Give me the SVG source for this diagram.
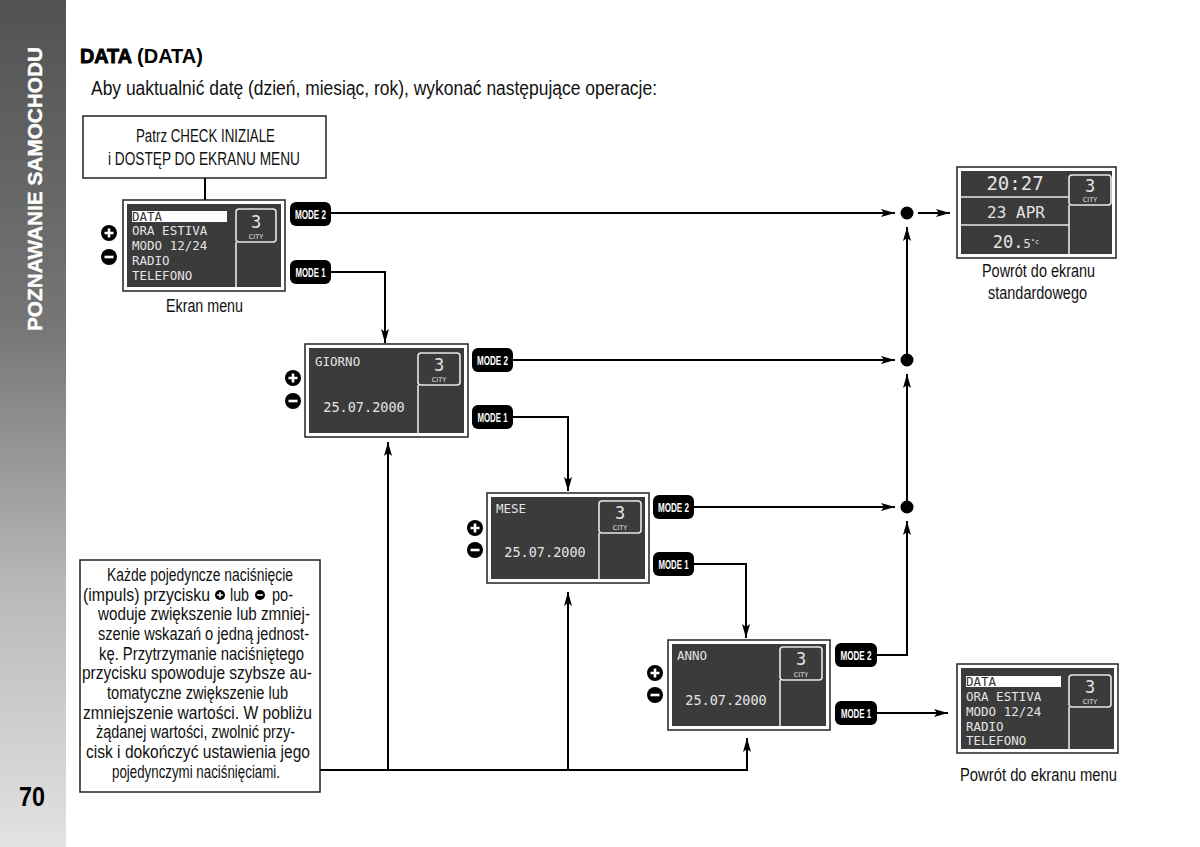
<svg xmlns="http://www.w3.org/2000/svg" width="1200" height="847" viewBox="0 0 1200 847">
<defs>
<linearGradient id="side" x1="0" y1="0" x2="0" y2="1">
<stop offset="0" stop-color="#525252"/>
<stop offset="0.38" stop-color="#757575"/>
<stop offset="0.7" stop-color="#b9b9b9"/>
<stop offset="1" stop-color="#e2e2e2"/>
</linearGradient>
<marker id="ah" viewBox="0 0 14 8" refX="14" refY="4" markerWidth="14" markerHeight="8" markerUnits="userSpaceOnUse" orient="auto">
<path d="M0,0 L14,4 L0,8 L3,4 Z" fill="#000"/>
</marker>
<g id="plus"><circle r="8" fill="#000"/><path d="M-4.5,0 H4.5 M0,-4.5 V4.5" stroke="#fff" stroke-width="2.6"/></g>
<g id="minus"><circle r="8" fill="#000"/><path d="M-4.5,0 H4.5" stroke="#fff" stroke-width="2.6"/></g>
<g id="plusS"><circle r="5" fill="#000"/><path d="M-2.8,0 H2.8 M0,-2.8 V2.8" stroke="#fff" stroke-width="1.6"/></g>
<g id="minusS"><circle r="5" fill="#000"/><path d="M-2.8,0 H2.8" stroke="#fff" stroke-width="1.6"/></g>
</defs>
<style>
.body{font-family:"Liberation Sans Narrow","Liberation Sans",sans-serif;fill:#111}
.cap{font-size:17.5px}
.note{font-size:17.5px}
.outer{fill:#fff;stroke:#222;stroke-width:1.5}
.inner{fill:#3b3b3b}
.wl{stroke:#e8e8e8;stroke-width:1.6;fill:none}
.mono{font-family:"DejaVu Sans Mono","Liberation Mono",monospace;fill:#e4e4e4;font-size:12.5px}
.big3{font-family:"DejaVu Sans Mono","Liberation Mono",monospace;fill:#e4e4e4;font-size:17px;text-anchor:middle}
.city{font-family:"DejaVu Sans",sans-serif;fill:#e4e4e4;font-size:6.5px;text-anchor:middle}
.date{font-family:"DejaVu Sans Mono","Liberation Mono",monospace;fill:#e4e4e4;font-size:13.5px;text-anchor:middle}
.mb{fill:#000}
.mt{font-family:"Liberation Sans Narrow","Liberation Sans",sans-serif;font-weight:bold;fill:#fff;font-size:12px;text-anchor:middle}
.conn{stroke:#000;stroke-width:2;fill:none}
</style>

<rect x="0" y="0" width="1200" height="847" fill="#fff"/>
<rect x="0" y="0" width="66" height="847" fill="url(#side)"/>
<text transform="translate(42,331) rotate(-90)" x="0" y="0" textLength="284" lengthAdjust="spacingAndGlyphs" font-family="Liberation Sans, sans-serif" font-weight="bold" font-size="20" fill="#fff" stroke="#fff" stroke-width="0.4">POZNAWANIE SAMOCHODU</text>
<text x="19" y="806" textLength="26" lengthAdjust="spacingAndGlyphs" font-family="Liberation Sans Narrow, Liberation Sans, sans-serif" font-weight="bold" font-size="27" fill="#000">70</text>

<text x="80" y="63" font-family="Liberation Sans, sans-serif" font-weight="bold" font-size="20" fill="#000"><tspan stroke="#000" stroke-width="0.9" textLength="52" lengthAdjust="spacingAndGlyphs">DATA</tspan><tspan x="137" textLength="66" lengthAdjust="spacingAndGlyphs">(DATA)</tspan></text>
<text class="body" x="91" y="95" font-size="20" textLength="566" lengthAdjust="spacingAndGlyphs">Aby uaktualnić datę (dzień, miesiąc, rok), wykonać następujące operacje:</text>

<g id="connectors">
<path class="conn" d="M205,178 V200"/>
<path class="conn" d="M331,213 H895" marker-end="url(#ah)"/>
<path class="conn" d="M918,213 H950" marker-end="url(#ah)"/>
<path class="conn" d="M331,272 H385 V343" marker-end="url(#ah)"/>
<path class="conn" d="M513,360 H895" marker-end="url(#ah)"/>
<path class="conn" d="M513,417 H568 V491" marker-end="url(#ah)"/>
<path class="conn" d="M694,507 H895" marker-end="url(#ah)"/>
<path class="conn" d="M694,564 H746 V638" marker-end="url(#ah)"/>
<path class="conn" d="M877,655 H907 V521" marker-end="url(#ah)"/>
<path class="conn" d="M907,507 V374" marker-end="url(#ah)"/>
<path class="conn" d="M907,360 V227" marker-end="url(#ah)"/>
<path class="conn" d="M877,713 H948" marker-end="url(#ah)"/>
<path class="conn" d="M320,770 H747 V738" marker-end="url(#ah)"/>
<path class="conn" d="M388,770 V442" marker-end="url(#ah)"/>
<path class="conn" d="M568,770 V592" marker-end="url(#ah)"/>
<circle cx="907" cy="213" r="6.5" fill="#000"/>
<circle cx="907" cy="360" r="6.5" fill="#000"/>
<circle cx="907" cy="507" r="6.5" fill="#000"/>
</g>

<g id="start-box">
<rect x="83" y="116" width="243" height="62" fill="#fff" stroke="#222" stroke-width="1.5"/>
<text class="body cap" x="136" y="142" textLength="139" lengthAdjust="spacingAndGlyphs">Patrz CHECK INIZIALE</text>
<text class="body cap" x="108" y="165" textLength="192" lengthAdjust="spacingAndGlyphs">i DOSTĘP DO EKRANU MENU</text>
</g>

<g id="screen-menu">
<rect class="outer" x="123" y="200" width="162" height="91"/>
<rect class="inner" x="127" y="204" width="154" height="83"/>
<path class="wl" d="M236,242 V287"/>
<rect class="wl" x="236" y="209" width="40" height="33" rx="3" stroke-width="2"/>
<text class="big3" x="256" y="228">3</text>
<text class="city" x="256" y="239">CITY</text>
<rect x="132" y="211" width="95" height="11" fill="#fff"/>
<text class="mono" x="132" y="221" style="fill:#333">DATA</text>
<text class="mono" x="132" y="235">ORA ESTIVA</text>
<text class="mono" x="132" y="250">MODO 12/24</text>
<text class="mono" x="132" y="265">RADIO</text>
<text class="mono" x="132" y="280">TELEFONO</text>
<use href="#plus" x="109" y="233"/>
<use href="#minus" x="109" y="257"/>
<text class="body cap" x="166" y="312" textLength="77" lengthAdjust="spacingAndGlyphs">Ekran menu</text>
</g>
<g id="s1-mode2"><rect class="mb" x="290" y="202" width="41" height="24" rx="6"/><text class="mt" x="310.5" y="218.5" textLength="31" lengthAdjust="spacingAndGlyphs">MODE 2</text></g>
<g id="s1-mode1"><rect class="mb" x="290" y="260" width="41" height="24" rx="6"/><text class="mt" x="310.5" y="276.5" textLength="30" lengthAdjust="spacingAndGlyphs">MODE 1</text></g>

<g id="screen-giorno">
<rect class="outer" x="305" y="344" width="163" height="93"/>
<rect class="inner" x="309" y="348" width="155" height="85"/>
<path class="wl" d="M418,385 V433"/>
<rect class="wl" x="418" y="353" width="42" height="32" rx="3" stroke-width="2"/>
<text class="big3" x="439" y="371">3</text>
<text class="city" x="439" y="382">CITY</text>
<text class="mono" x="315" y="366">GIORNO</text>
<text class="date" x="364" y="412">25.07.2000</text>
<use href="#plus" x="293" y="378"/>
<use href="#minus" x="293" y="401"/>
</g>
<g id="s2-mode2"><rect class="mb" x="472" y="348" width="41" height="24" rx="6"/><text class="mt" x="492.5" y="364.5" textLength="31" lengthAdjust="spacingAndGlyphs">MODE 2</text></g>
<g id="s2-mode1"><rect class="mb" x="472" y="405" width="41" height="24" rx="6"/><text class="mt" x="492.5" y="421.5" textLength="30" lengthAdjust="spacingAndGlyphs">MODE 1</text></g>

<g id="screen-mese">
<rect class="outer" x="487" y="493" width="162" height="90"/>
<rect class="inner" x="491" y="497" width="154" height="82"/>
<path class="wl" d="M599,533 V579"/>
<rect class="wl" x="599" y="501" width="42" height="32" rx="3" stroke-width="2"/>
<text class="big3" x="620" y="519">3</text>
<text class="city" x="620" y="530">CITY</text>
<text class="mono" x="496" y="513">MESE</text>
<text class="date" x="545" y="557">25.07.2000</text>
<use href="#plus" x="475" y="528"/>
<use href="#minus" x="475" y="550"/>
</g>
<g id="s3-mode2"><rect class="mb" x="653" y="495" width="41" height="24" rx="6"/><text class="mt" x="673.5" y="511.5" textLength="31" lengthAdjust="spacingAndGlyphs">MODE 2</text></g>
<g id="s3-mode1"><rect class="mb" x="653" y="552" width="41" height="24" rx="6"/><text class="mt" x="673.5" y="568.5" textLength="30" lengthAdjust="spacingAndGlyphs">MODE 1</text></g>

<g id="screen-anno">
<rect class="outer" x="668" y="640" width="162" height="90"/>
<rect class="inner" x="672" y="644" width="154" height="82"/>
<path class="wl" d="M780,680 V726"/>
<rect class="wl" x="780" y="647" width="42" height="33" rx="3" stroke-width="2"/>
<text class="big3" x="801" y="665">3</text>
<text class="city" x="801" y="677">CITY</text>
<text class="mono" x="677" y="660">ANNO</text>
<text class="date" x="726" y="705">25.07.2000</text>
<use href="#plus" x="655" y="673"/>
<use href="#minus" x="655" y="695"/>
</g>
<g id="s4-mode2"><rect class="mb" x="835" y="643" width="42" height="24" rx="6"/><text class="mt" x="856" y="659.5" textLength="31" lengthAdjust="spacingAndGlyphs">MODE 2</text></g>
<g id="s4-mode1"><rect class="mb" x="835" y="701" width="42" height="24" rx="6"/><text class="mt" x="856" y="717.5" textLength="30" lengthAdjust="spacingAndGlyphs">MODE 1</text></g>

<g id="screen-standard">
<rect class="outer" x="957" y="167" width="159" height="91"/>
<rect class="inner" x="961" y="171" width="151" height="83"/>
<path class="wl" d="M1069,205 V254 M961,197 H1069 M961,225 H1069"/>
<rect class="wl" x="1069" y="175" width="42" height="30" rx="3" stroke-width="2"/>
<text class="big3" x="1090" y="192">3</text>
<text class="city" x="1090" y="202">CITY</text>
<text class="date" x="1015" y="190" style="font-size:19px">20:27</text>
<text class="date" x="1016" y="218" style="font-size:16px">23 APR</text>
<text class="date" x="1016" y="248" style="font-size:17px">20.<tspan style="font-size:12px">5</tspan><tspan style="font-size:7px" dy="-4">°c</tspan></text>
<text class="body cap" x="982" y="277" textLength="113" lengthAdjust="spacingAndGlyphs">Powrót do ekranu</text>
<text class="body cap" x="988" y="299" textLength="99" lengthAdjust="spacingAndGlyphs">standardowego</text>
</g>

<g id="screen-menu-return">
<rect class="outer" x="957" y="664" width="161" height="89"/>
<rect class="inner" x="961" y="668" width="153" height="81"/>
<path class="wl" d="M1069,707 V749"/>
<rect class="wl" x="1069" y="675" width="42" height="32" rx="3" stroke-width="2"/>
<text class="big3" x="1090" y="693">3</text>
<text class="city" x="1090" y="704">CITY</text>
<rect x="966" y="676" width="95" height="11" fill="#fff"/>
<text class="mono" x="966" y="686" style="fill:#333">DATA</text>
<text class="mono" x="966" y="701">ORA ESTIVA</text>
<text class="mono" x="966" y="716">MODO 12/24</text>
<text class="mono" x="966" y="731">RADIO</text>
<text class="mono" x="966" y="745">TELEFONO</text>
<text class="body cap" x="960" y="781" textLength="157" lengthAdjust="spacingAndGlyphs">Powrót do ekranu menu</text>
</g>

<g id="note-box">
<rect x="80" y="560" width="240" height="232" fill="#fff" stroke="#222" stroke-width="1.5"/>
<g class="body note">
<text x="107" y="581" textLength="186" lengthAdjust="spacingAndGlyphs">Każde pojedyncze naciśnięcie</text>
<text x="83" y="601" textLength="127" lengthAdjust="spacingAndGlyphs">(impuls) przycisku</text>
<text x="230" y="601" textLength="19" lengthAdjust="spacingAndGlyphs">lub</text>
<text x="272" y="601" textLength="21" lengthAdjust="spacingAndGlyphs">po-</text>
<text x="98" y="620" textLength="212" lengthAdjust="spacingAndGlyphs">woduje zwiększenie lub zmniej-</text>
<text x="98" y="640" textLength="211" lengthAdjust="spacingAndGlyphs">szenie wskazań o jedną jednost-</text>
<text x="99" y="660" textLength="205" lengthAdjust="spacingAndGlyphs">kę. Przytrzymanie naciśniętego</text>
<text x="82" y="679" textLength="230" lengthAdjust="spacingAndGlyphs">przycisku spowoduje szybsze au-</text>
<text x="107" y="699" textLength="181" lengthAdjust="spacingAndGlyphs">tomatyczne zwiększenie lub</text>
<text x="83" y="719" textLength="229" lengthAdjust="spacingAndGlyphs">zmniejszenie wartości. W pobliżu</text>
<text x="96" y="738" textLength="199" lengthAdjust="spacingAndGlyphs">żądanej wartości, zwolnić przy-</text>
<text x="86" y="758" textLength="224" lengthAdjust="spacingAndGlyphs">cisk i dokończyć ustawienia jego</text>
<text x="112" y="778" textLength="168" lengthAdjust="spacingAndGlyphs">pojedynczymi naciśnięciami.</text>
</g>
<use href="#plusS" x="220" y="595"/>
<use href="#minusS" x="260" y="595"/>
</g>
</svg>
